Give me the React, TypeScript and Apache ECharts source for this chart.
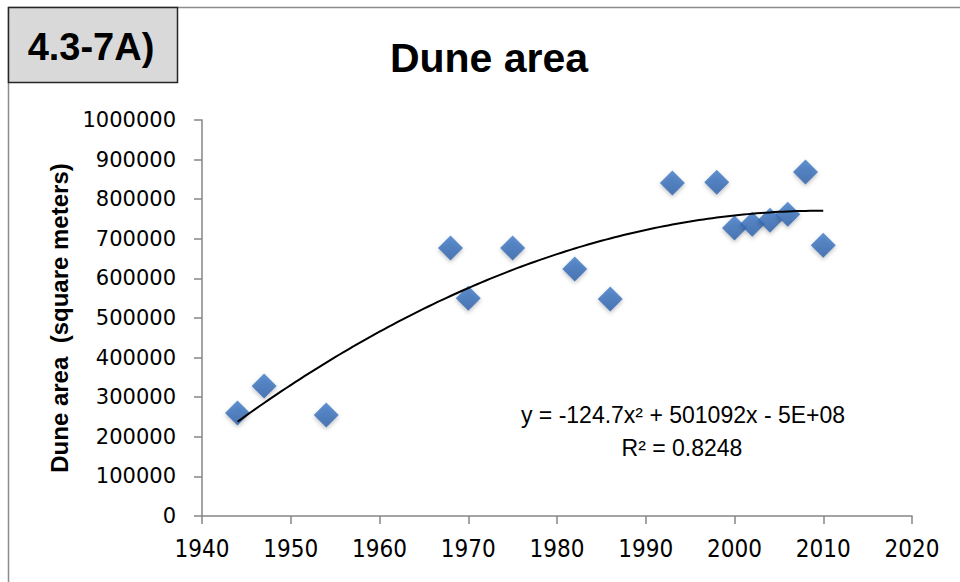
import React, { useEffect, useRef } from "react";
import * as echarts from "echarts";

const years = [1944, 1947, 1954, 1968, 1970, 1975, 1982, 1986, 1993, 1998, 2000, 2002, 2004, 2006, 2008, 2010];
const areas = [260000, 328000, 255000, 677000, 550000, 677000, 624000, 548000, 841000, 843000, 727000, 737000, 747000, 762000, 869000, 684000];
const xTicks = { min: 1940, max: 2020, interval: 10 };
const yTicks = { min: 0, max: 1000000, interval: 100000 };
const titleText = "Dune area";
const panelLabel = "4.3-7A)";
const yAxisName = "Dune area  (square meters)";
const equationText = "y = -124.7x\u00B2 + 501092x - 5E+08";
const r2Text = "R\u00B2 = 0.8248";

// quadratic least-squares fit of the data (trendline)
function polyfit2(xs: number[], ys: number[]) {
  const c = 1980;
  let s0 = 0, s1 = 0, s2 = 0, s3 = 0, s4 = 0, t0 = 0, t1 = 0, t2 = 0;
  xs.forEach((x0, i) => {
    const x = x0 - c;
    const y = ys[i];
    s0 += 1; s1 += x; s2 += x * x; s3 += x * x * x; s4 += x * x * x * x;
    t0 += y; t1 += x * y; t2 += x * x * y;
  });
  const det3 = (m: number[][]) =>
    m[0][0] * (m[1][1] * m[2][2] - m[1][2] * m[2][1]) -
    m[0][1] * (m[1][0] * m[2][2] - m[1][2] * m[2][0]) +
    m[0][2] * (m[1][0] * m[2][1] - m[1][1] * m[2][0]);
  const A = [[s4, s3, s2], [s3, s2, s1], [s2, s1, s0]];
  const B = [t2, t1, t0];
  const D = det3(A);
  const rep = (col: number) => A.map((row, r) => row.map((v, k) => (k === col ? B[r] : v)));
  const a = det3(rep(0)) / D;
  const b = det3(rep(1)) / D;
  const cc = det3(rep(2)) / D;
  return (x0: number) => {
    const x = x0 - c;
    return a * x * x + b * x + cc;
  };
}

export default function App() {
  const ref = useRef<HTMLDivElement>(null);
  useEffect(() => {
    const chart = echarts.init(ref.current!, null, { renderer: "svg" });
    const f = polyfit2(years, areas);
    const x0 = Math.min(...years);
    const x1 = Math.max(...years);
    const trend: number[][] = [];
    for (let x = x0; x <= x1 + 1e-9; x += 0.5) trend.push([x, f(x)]);

    const axisColor = "#868686";
    chart.setOption({
      animation: false,
      backgroundColor: "#ffffff",
      grid: { left: 202, right: 48, top: 120, bottom: 66, containLabel: false },
      xAxis: {
        type: "value",
        min: xTicks.min,
        max: xTicks.max,
        interval: xTicks.interval,
        axisLine: { show: true, lineStyle: { color: axisColor, width: 1.5 } },
        axisTick: { show: true, length: 8, lineStyle: { color: axisColor, width: 1.5 } },
        splitLine: { show: false },
        axisLabel: {
          margin: 21,
          color: "#000",
          fontSize: 24,
          formatter: (v: number) => String(v),
          fontFamily: "'Liberation Sans Narrow', 'DejaVu Sans Condensed', sans-serif",
        },
      },
      yAxis: {
        type: "value",
        min: yTicks.min,
        max: yTicks.max,
        interval: yTicks.interval,
        name: yAxisName,
        nameLocation: "middle",
        nameGap: 124,
        nameRotate: 90,
        nameTextStyle: {
          color: "#000",
          fontSize: 24,
          fontWeight: "bold",
          fontFamily: "'Liberation Sans', sans-serif",
        },
        axisLine: { show: true, lineStyle: { color: axisColor, width: 1.5 } },
        axisTick: { show: true, length: 8, lineStyle: { color: axisColor, width: 1.5 } },
        splitLine: { show: false },
        axisLabel: {
          margin: 26,
          color: "#000",
          fontSize: 21,
          formatter: (v: number) => String(v),
          fontFamily: "'DejaVu Sans', sans-serif",
        },
      },
      series: [
        {
          type: "line",
          data: trend,
          showSymbol: false,
          symbol: "none",
          smooth: false,
          lineStyle: { color: "#000", width: 2 },
          z: 3,
        },
        {
          type: "scatter",
          data: years.map((y, i) => [y, areas[i]]),
          symbol: "diamond",
          symbolSize: 25,
          itemStyle: {
            color: new echarts.graphic.LinearGradient(0, 0, 0, 1, [
              { offset: 0, color: "#3c78c8" },
              { offset: 1, color: "#2a5ea6" },
            ]),
            shadowBlur: 4,
            shadowColor: "rgba(0,0,0,0.3)",
            shadowOffsetY: 2,
          },
          z: 2,
        },
      ],
      graphic: [
        {
          type: "line",
          shape: { x1: 8, y1: 7.5, x2: 960, y2: 7.5 },
          style: { stroke: "#8c8c8c", lineWidth: 1.5 },
        },
        {
          type: "line",
          shape: { x1: 8.5, y1: 7, x2: 8.5, y2: 582 },
          style: { stroke: "#8c8c8c", lineWidth: 1.5 },
        },
        {
          type: "rect",
          shape: { x: 8.5, y: 7.5, width: 169, height: 75 },
          style: { fill: "#d9d9d9", stroke: "#262626", lineWidth: 1.5 },
        },
        {
          type: "text",
          x: 91,
          y: 47,
          style: {
            text: panelLabel,
            fill: "#000",
            fontSize: 38,
            fontWeight: "bold",
            fontFamily: "'Liberation Sans', sans-serif",
            textAlign: "center",
            textVerticalAlign: "middle",
          },
        },
        {
          type: "text",
          x: 489,
          y: 58,
          style: {
            text: titleText,
            fill: "#000",
            fontSize: 41,
            fontWeight: "bold",
            fontFamily: "'Liberation Sans', sans-serif",
            textAlign: "center",
            textVerticalAlign: "middle",
          },
        },
        {
          type: "text",
          x: 683,
          y: 415,
          style: {
            text: equationText,
            fill: "#000",
            fontSize: 23,
            fontFamily: "'Liberation Sans', sans-serif",
            textAlign: "center",
            textVerticalAlign: "middle",
          },
        },
        {
          type: "text",
          x: 682,
          y: 448,
          style: {
            text: r2Text,
            fill: "#000",
            fontSize: 23,
            fontFamily: "'Liberation Sans', sans-serif",
            textAlign: "center",
            textVerticalAlign: "middle",
          },
        },
      ],
    });
    return () => chart.dispose();
  }, []);
  return (
    <div
      ref={ref}
      style={{ position: "absolute", left: 0, top: 0, width: 960, height: 582 }}
    />
  );
}
